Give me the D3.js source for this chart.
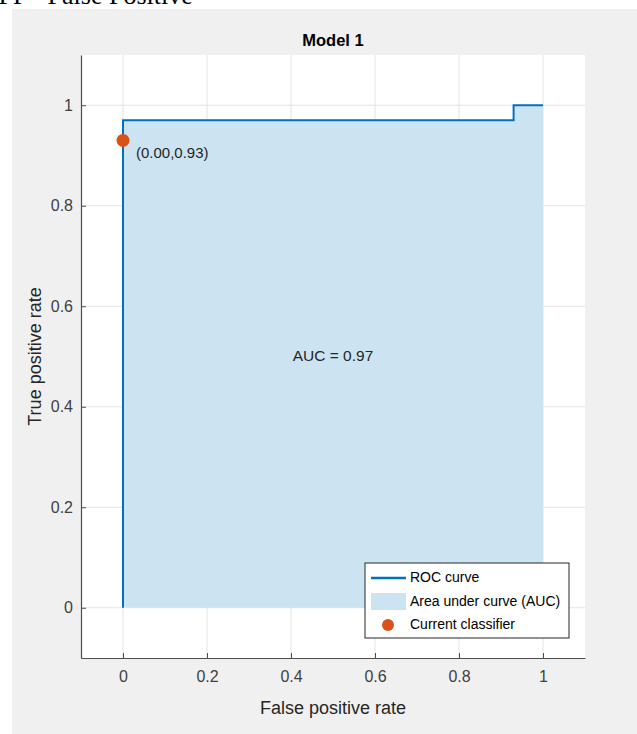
<!DOCTYPE html>
<meta charset="utf-8">
<style>
  body { margin: 0; background: #fff; }
  text { font-family: "Liberation Sans", Arial, sans-serif; fill: #262626; }
  .tick text { font-size: 16px; fill: #404040; }
  .grid line { stroke: #e3e3e3; stroke-width: 1; }
</style>
<body>
<svg width="637" height="734"></svg>
<script src="https://d3js.org/d3.v7.min.js"></script>
<script>
// ROC curve data
const fpr = [0, 0, 0.93, 0.93, 1];
const tpr = [0, 0.97, 0.97, 1, 1];
const currentFpr = 0.00;
const currentTpr = 0.93;
const auc = 0.97;
const xTicks = [0, 0.2, 0.4, 0.6, 0.8, 1];
const yTicks = [0, 0.2, 0.4, 0.6, 0.8, 1];
const legendLabels = ['ROC curve', 'Area under curve (AUC)', 'Current classifier'];

const svg = d3.select('svg');
const plotL = 81, plotR = 585, plotT = 55, plotB = 658;

const x = d3.scaleLinear().domain([-0.1, 1.1]).range([plotL, plotR]);
const y = d3.scaleLinear().domain([-0.1, 1.1]).range([plotB, plotT]);

// caption cut off above the figure
svg.append('text')
  .attr('x', -1.5)
  .attr('y', 4)
  .style('font-family', '"Liberation Serif", "Times New Roman", serif')
  .style('font-size', '26px')
  .style('fill', '#000')
  .text('FP =False Positive');

// figure background
svg.append('rect')
  .attr('x', 12).attr('y', 9)
  .attr('width', 637 - 12).attr('height', 734 - 9)
  .attr('fill', '#f0f0f0');

// axes background
svg.append('rect')
  .attr('x', plotL).attr('y', plotT)
  .attr('width', plotR - plotL).attr('height', plotB - plotT)
  .attr('fill', '#fff');

// grid
const grid = svg.append('g').attr('class', 'grid');
grid.selectAll('.gx').data(xTicks).enter().append('line')
  .attr('x1', d => x(d)).attr('x2', d => x(d))
  .attr('y1', plotT).attr('y2', plotB);
grid.selectAll('.gy').data(yTicks).enter().append('line')
  .attr('x1', plotL).attr('x2', plotR)
  .attr('y1', d => y(d)).attr('y2', d => y(d));

const pts = fpr.map((f, i) => [f, tpr[i]]);

// area under curve
svg.append('path')
  .datum(pts)
  .attr('fill', '#cce3f2')
  .attr('d', d3.area().x(d => x(d[0])).y0(y(0)).y1(d => y(d[1])));

// ROC curve
svg.append('path')
  .datum(pts)
  .attr('fill', 'none')
  .attr('stroke', '#0072bd')
  .attr('stroke-width', 2)
  .attr('d', d3.line().x(d => x(d[0])).y(d => y(d[1])));

// current classifier
svg.append('circle')
  .attr('cx', x(currentFpr)).attr('cy', y(currentTpr))
  .attr('r', 6.5)
  .attr('fill', '#d95319');

svg.append('text')
  .attr('x', x(currentFpr) + 13)
  .attr('y', y(currentTpr) + 14)
  .attr('dominant-baseline', 'middle')
  .style('font-size', '15px')
  .text(`(${currentFpr.toFixed(2)},${currentTpr.toFixed(2)})`);

svg.append('text')
  .attr('x', x(0.5))
  .attr('y', y(0.5))
  .attr('text-anchor', 'middle')
  .attr('dominant-baseline', 'middle')
  .style('font-size', '15.5px')
  .text('AUC = ' + auc.toFixed(2));

// axes
const fmt = d3.format('~g');
const xAxis = svg.append('g')
  .attr('transform', `translate(0,${plotB})`)
  .call(d3.axisBottom(x).tickValues(xTicks).tickFormat(fmt)
    .tickSizeInner(-5).tickSizeOuter(0).tickPadding(13));
const yAxis = svg.append('g')
  .attr('transform', `translate(${plotL},0)`)
  .call(d3.axisLeft(y).tickValues(yTicks).tickFormat(fmt)
    .tickSizeInner(-5).tickSizeOuter(0).tickPadding(8));
[xAxis, yAxis].forEach(a => {
  a.select('.domain').attr('stroke', '#4d4d4d').attr('stroke-width', 1.2);
  a.selectAll('.tick line').attr('stroke', '#4d4d4d');
  a.selectAll('.tick text').style('font-family', '"Liberation Sans", Arial, sans-serif');
});

// title and labels
svg.append('text')
  .attr('x', (plotL + plotR) / 2).attr('y', 46)
  .attr('text-anchor', 'middle')
  .style('font-size', '16.5px').style('font-weight', 'bold')
  .style('fill', '#000')
  .text('Model 1');

svg.append('text')
  .attr('x', (plotL + plotR) / 2).attr('y', 714)
  .attr('text-anchor', 'middle')
  .style('font-size', '18px')
  .text('False positive rate');

svg.append('text')
  .attr('transform', `translate(36,${(plotT + plotB) / 2}) rotate(-90)`)
  .attr('text-anchor', 'middle')
  .attr('dominant-baseline', 'middle')
  .style('font-size', '18px')
  .text('True positive rate');

// legend
const lg = svg.append('g').attr('transform', 'translate(365,563)');
lg.append('rect')
  .attr('width', 204).attr('height', 75)
  .attr('fill', '#fff').attr('stroke', '#262626').attr('stroke-width', 1);
const rowY = [15, 39, 62];
lg.append('line')
  .attr('x1', 6).attr('x2', 41).attr('y1', rowY[0]).attr('y2', rowY[0])
  .attr('stroke', '#0072bd').attr('stroke-width', 2.5);
lg.append('rect')
  .attr('x', 6).attr('y', rowY[1] - 9).attr('width', 35).attr('height', 17)
  .attr('fill', '#cce3f2');
lg.append('circle')
  .attr('cx', 23).attr('cy', rowY[2]).attr('r', 6)
  .attr('fill', '#d95319');
lg.selectAll('.lt').data(legendLabels).enter().append('text')
  .attr('x', 45)
  .attr('y', (d, i) => rowY[i])
  .attr('dominant-baseline', 'middle')
  .style('font-size', '14px')
  .style('fill', '#000')
  .text(d => d);
</script>
</body>
